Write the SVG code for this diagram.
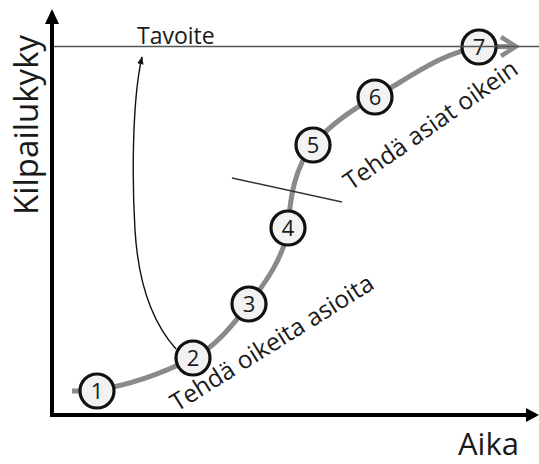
<svg xmlns="http://www.w3.org/2000/svg" width="539" height="464" viewBox="0 0 539 464">
<style>
text{font-family:"Open Sans","DejaVu Sans",sans-serif;fill:#1a1a1a}
.node circle{fill:#f2f2f2;stroke:#111;stroke-width:3.2}
.node text{font-size:22px;text-anchor:middle}
.lbl{font-size:24.5px}
</style>
<defs>
<marker id="ah" viewBox="0 0 10 10" refX="9" refY="5" markerWidth="8" markerHeight="8" markerUnits="userSpaceOnUse" orient="auto"><path d="M0,1 L10,5 L0,9 Z" fill="#111"/></marker>
</defs>
<rect width="539" height="464" fill="#fff"/>
<g id="axes">
<line x1="52" y1="415" x2="52" y2="22" stroke="#000" stroke-width="4"/>
<path d="M52,9 L59,24 L45,24 Z" fill="#000"/>
<line x1="50" y1="415" x2="528" y2="415" stroke="#000" stroke-width="4"/>
<path d="M539,415 L526,408 L526,422 Z" fill="#000"/>
<text transform="translate(38,125) rotate(-90)" font-size="33" text-anchor="middle">Kilpailukyky</text>
<text x="458" y="455" font-size="31">Aika</text>
</g>
<g id="connectors">
<path d="M72,391 C80,391 89,390.5 97,390 C130,385 163.5,372.8 193,358 C216.2,346.4 233.1,324.5 249,304 C266.1,281.9 284.5,255.7 288,228 C290,199 294.4,167.3 313,145 C329.6,125 352.2,109.5 375,97 C408.3,78.7 441.4,52.6 479,47 L514,46.5" fill="none" stroke="#8a8a8a" stroke-width="5"/>
<path d="M501,37 L516,46.5 L501,56" fill="none" stroke="#8a8a8a" stroke-width="4.5"/>
<path d="M176,349 C150,320 138,280 135,230 C132,180 132,100 142,57" fill="none" stroke="#111" stroke-width="1.4" marker-end="url(#ah)"/>
<line x1="232" y1="178" x2="342" y2="202" stroke="#333" stroke-width="1.4"/>
</g>
<g id="n1" class="node"><circle cx="97" cy="391" r="17"/><text x="97" y="399">1</text></g>
<g id="n2" class="node"><circle cx="193" cy="358" r="17"/><text x="193" y="366">2</text></g>
<g id="n3" class="node"><circle cx="249" cy="304" r="17"/><text x="249" y="312">3</text></g>
<g id="n4" class="node"><circle cx="288" cy="228" r="17"/><text x="288" y="236">4</text></g>
<g id="n5" class="node"><circle cx="313" cy="145" r="17"/><text x="313" y="153">5</text></g>
<g id="n6" class="node"><circle cx="375" cy="97" r="17"/><text x="375" y="105">6</text></g>
<g id="n7" class="node"><circle cx="479" cy="47" r="17"/><text x="479" y="55">7</text></g>
<g id="target">
<line x1="54" y1="46.5" x2="539" y2="46.5" stroke="#555" stroke-width="1.6"/>
<text x="137" y="44" font-size="23">Tavoite</text>
</g>
<g id="labels">
<text class="lbl" transform="translate(177,412) rotate(-32)">Tehdä oikeita asioita</text>
<text class="lbl" transform="translate(351,191) rotate(-35)">Tehdä asiat oikein</text>
</g>
</svg>
